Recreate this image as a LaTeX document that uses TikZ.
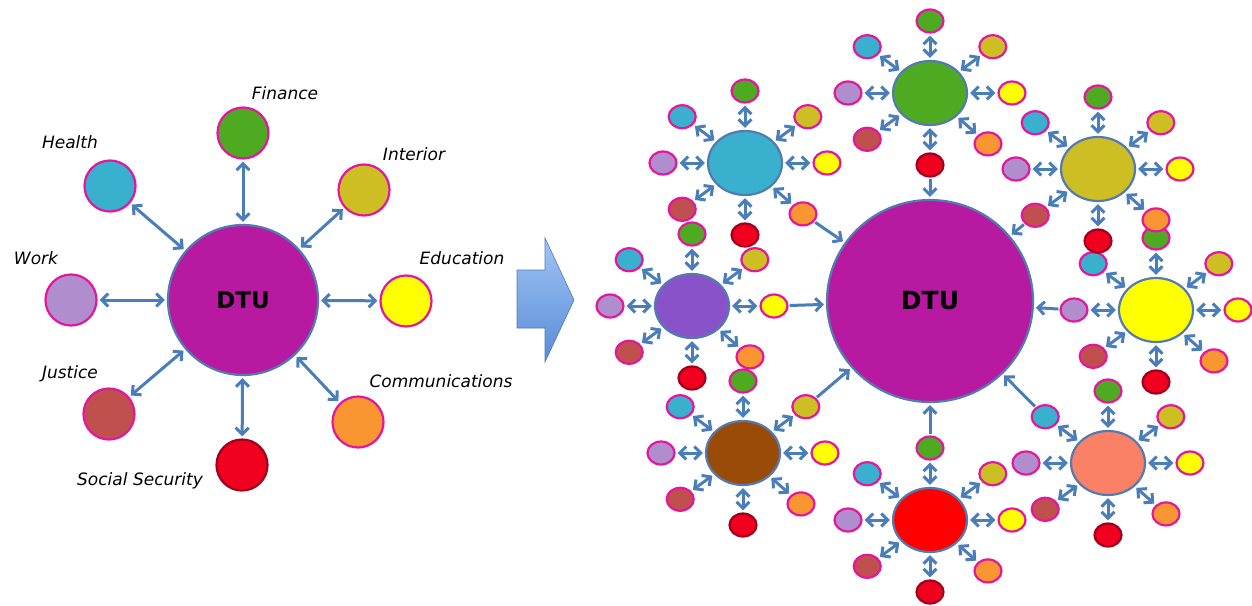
\documentclass[tikz,border=0pt]{standalone}
\usepackage{fontspec}
\setmainfont{DejaVu Sans}
\usetikzlibrary{shapes.geometric,arrows.meta,calc}

\definecolor{cdtu}{RGB}{183,25,160}
\definecolor{cfin}{RGB}{78,170,32}
\definecolor{chea}{RGB}{56,176,206}
\definecolor{cint}{RGB}{205,190,35}
\definecolor{cwor}{RGB}{176,142,206}
\definecolor{cedu}{RGB}{255,255,0}
\definecolor{cjus}{RGB}{192,80,77}
\definecolor{ccom}{RGB}{250,150,50}
\definecolor{csoc}{RGB}{240,0,30}
\definecolor{cpur}{RGB}{138,82,200}
\definecolor{cbro}{RGB}{155,75,8}
\definecolor{csal}{RGB}{250,128,102}
\definecolor{cred}{RGB}{255,0,0}
\definecolor{rim}{RGB}{228,22,160}
\definecolor{darkrim}{RGB}{160,0,30}
\definecolor{edge}{RGB}{84,122,178}
\definecolor{linkblue}{RGB}{74,126,187}
\definecolor{shaftlight}{RGB}{160,196,245}
\definecolor{shaftdark}{RGB}{88,140,214}

\begin{document}
\begin{tikzpicture}
  [x=1pt,y=-1pt,every node/.style={inner sep=0pt},
   unit/.style={circle,draw=rim,line width=2.2pt,minimum size=51pt,fill=#1},
   hub/.style={ellipse,draw=edge,line width=2.2pt,minimum width=74pt,minimum height=64pt,fill=#1},
   dot/.style={ellipse,draw=rim,line width=2.2pt,minimum width=27pt,minimum height=23pt,fill=#1},
   tag/.style={font=\itshape\fontsize{17}{19}\selectfont},
   twoway/.style={draw=linkblue,line width=3pt,{Straight Barb[length=6.5pt,width=13pt]}-{Straight Barb[length=6.5pt,width=13pt]},shorten <=2pt,shorten >=2pt},
   oneway/.style={draw=linkblue,line width=3pt,-{Straight Barb[length=6.5pt,width=13pt]},shorten <=1pt,shorten >=2pt}]
  \fill[white] (0,0) rectangle (1252,605);
  \useasboundingbox (0,0) rectangle (1252,605);

  \node[unit=cdtu,draw=edge,minimum size=150pt] (dtu) at (243,300) {\fontsize{23}{25}\selectfont\bfseries DTU};
  \node[unit=cfin] (fin) at (243,133) {};
  \node[unit=chea] (hea) at (110,186) {};
  \node[unit=cint] (int) at (364,190) {};
  \node[unit=cwor] (wor) at (71,300)  {};
  \node[unit=cedu] (edu) at (406,301) {};
  \node[unit=cjus] (jus) at (109,414) {};
  \node[unit=ccom] (com) at (358,422) {};
  \node[unit=csoc,draw=darkrim] (soc) at (242,465) {};

  \node[tag] (finlabel) at (285,93)  {Finance};
  \node[tag] (healabel) at (70,142)  {Health};
  \node[tag] (intlabel) at (414,154) {Interior};
  \node[tag] (worlabel) at (36,258)  {Work};
  \node[tag] (edulabel) at (462,258) {Education};
  \node[tag] (juslabel) at (70,374)  {Justice};
  \node[tag] (comlabel) at (441,381) {Communications};
  \node[tag] (soclabel) at (140,481) {Social Security};

  \foreach \a in {fin,hea,int,wor,edu,jus,com,soc}
    \draw[twoway] (dtu) -- (\a);

  \shade[top color=shaftlight,bottom color=shaftdark,draw=edge,line width=0.6pt]
    (517,270) -- (545,270) -- (545,238) -- (574,300) -- (545,362) -- (545,328) -- (517,328) -- cycle;

  \node[hub=cdtu,minimum width=206pt,minimum height=202pt] (bigdtu) at (930,301) {\fontsize{25}{27}\selectfont\bfseries DTU};

  \foreach \n/\x/\y/\c/\k in {sa/745/163/chea/4,sb/930/93/cfin/5,sd/1156/310/cedu/7,sc/1098/169/cint/6,
                              se/1108/463/csal/8,sf/930/520/cred/1,sg/743/453/cbro/2,sh/692/306/cpur/3}
  {
    \node[hub=\c] (\n) at (\x,\y) {};
    \foreach \ang/\f/\r/\i in {90/cfin/rim/1,40/cint/rim/2,0/cedu/rim/3,-45/ccom/rim/4,
                               -90/csoc/darkrim/5,-140/cjus/rim/6,180/cwor/rim/7,140/chea/rim/8}
    {
      \node[dot=\f,draw=\r] (\n\i) at ($(\n)+(\ang:82pt and 72pt)$) {};
      \draw[twoway] (\n) -- (\n\i);
    }
    \draw[oneway] (\n\k) -- (bigdtu);
  }

\end{tikzpicture}
\end{document}
